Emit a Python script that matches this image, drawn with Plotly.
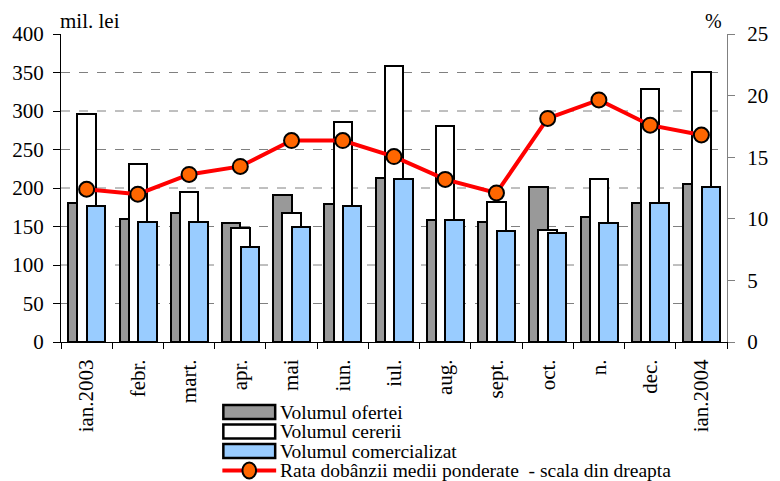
import plotly.graph_objects as go

months = ["ian.2003", "febr.", "mart.", "apr.", "mai", "iun.", "iul.", "aug.",
          "sept.", "oct.", "n.", "dec.", "ian.2004"]
oferta = [181, 160, 168, 155, 191, 179, 213, 158, 156, 201, 162, 180, 205]
cerere = [296, 231, 195, 148, 167, 286, 359, 280, 182, 146, 212, 329, 351]
comercializat = [177, 156, 156, 124, 149, 177, 212, 158, 144, 141, 155, 180, 201]
rata = [12.4, 12.0, 13.6, 14.25, 16.35, 16.35, 15.05, 13.2, 12.1, 18.15, 19.65, 17.6, 16.8]

left_ticks = [0, 50, 100, 150, 200, 250, 300, 350, 400]
right_ticks = [0, 5, 10, 15, 20, 25]

legend_labels = ["Volumul ofertei", "Volumul cererii", "Volumul comercializat",
                 "Rata dobânzii medii ponderate  - scala din dreapta"]

FONT = "Liberation Serif, Times New Roman, serif"
GRAY = "#999999"
BLUE = "#99CCFF"

# plot area in pixels
L, R, T, B = 59, 740, 34, 342


def px(x):
    return (x - L) / (R - L)


def py(y):
    return (B - y) / (B - T)


fig = go.Figure()
w = 0.36
fig.add_trace(go.Bar(x=months, y=oferta, name=legend_labels[0], width=w, offset=-0.357,
                     marker=dict(color=GRAY, line=dict(color="black", width=2)), showlegend=False))
fig.add_trace(go.Bar(x=months, y=cerere, name=legend_labels[1], width=w, offset=-0.18,
                     marker=dict(color="white", line=dict(color="black", width=2)), showlegend=False))
fig.add_trace(go.Bar(x=months, y=comercializat, name=legend_labels[2], width=w, offset=0.005,
                     marker=dict(color=BLUE, line=dict(color="black", width=2)), showlegend=False))
fig.add_trace(go.Scatter(x=months, y=rata, name=legend_labels[3], yaxis="y2", mode="lines+markers",
                         line=dict(color="#FF0000", width=4),
                         marker=dict(color="#FF6600", size=15, line=dict(color="black", width=2)),
                         showlegend=False))

shapes = []
# dashed gridlines on left scale (excluding 0 and 400)
for v in left_ticks[1:-1]:
    shapes.append(dict(type="line", xref="paper", yref="y", x0=0, x1=1, y0=v, y1=v,
                       line=dict(color="#808080", width=1, dash="dash"), layer="below"))

# custom legend
rows_y = [412, 431.5, 451, 470.5]
fills = [GRAY, "white", BLUE]
for i, f in enumerate(fills):
    shapes.append(dict(type="rect", xref="paper", yref="paper",
                       x0=px(225), x1=px(278), y0=py(rows_y[i] - 7), y1=py(rows_y[i] + 7),
                       fillcolor=f, line=dict(color="black", width=2.5)))
shapes.append(dict(type="line", xref="paper", yref="paper", x0=px(224), x1=px(279),
                   y0=py(rows_y[3]), y1=py(rows_y[3]), line=dict(color="#FF0000", width=4)))
shapes.append(dict(type="circle", xref="paper", yref="paper",
                   x0=px(251.5 - 7), x1=px(251.5 + 7), y0=py(rows_y[3] - 8), y1=py(rows_y[3] + 8),
                   fillcolor="#FF6600", line=dict(color="black", width=2)))

annotations = []
for i, lab in enumerate(legend_labels):
    annotations.append(dict(text=lab, xref="paper", yref="paper", x=px(282), y=py(rows_y[i]),
                            xanchor="left", yanchor="middle", showarrow=False, borderpad=0,
                            font=dict(family=FONT, size=19.5, color="black")))
annotations.append(dict(text="mil. lei", xref="paper", yref="paper", x=px(56), y=py(21),
                        xanchor="left", yanchor="middle", showarrow=False,
                        font=dict(family=FONT, size=21, color="black")))
annotations.append(dict(text="%", xref="paper", yref="paper", x=px(737), y=py(21),
                        xanchor="right", yanchor="middle", showarrow=False,
                        font=dict(family=FONT, size=20, color="black")))

fig.update_layout(
    width=780, height=481,
    margin=dict(l=L, r=780 - R, t=T, b=481 - B),
    paper_bgcolor="white", plot_bgcolor="white",
    barmode="overlay", bargap=0,
    font=dict(family=FONT, size=21, color="black"),
    showlegend=False,
    xaxis=dict(type="category", range=[-0.5, 12.5], tickangle=-90, ticks="outside",
               tickson="boundaries", ticklen=6, tickcolor="black", showline=True,
               linecolor="black", linewidth=1, showgrid=False, ticklabelstandoff=8,
               tickfont=dict(family=FONT, size=21)),
    yaxis=dict(range=[0, 400], tickvals=left_ticks, ticks="outside", ticklen=7, tickcolor="black",
               showline=True, linecolor="black", linewidth=1, showgrid=False, zeroline=False,
               ticklabelstandoff=5, tickfont=dict(family=FONT, size=21)),
    yaxis2=dict(range=[0, 25], tickvals=right_ticks, overlaying="y", side="right", ticks="outside",
                ticklen=7, tickcolor="#808080", showline=True, linecolor="#808080", linewidth=1,
                showgrid=False, zeroline=False, ticklabelstandoff=8,
                tickfont=dict(family=FONT, size=21)),
    shapes=shapes,
    annotations=annotations,
)

fig.write_html("out.html", config={"displayModeBar": False},
               post_script="document.body.style.margin='0';")
